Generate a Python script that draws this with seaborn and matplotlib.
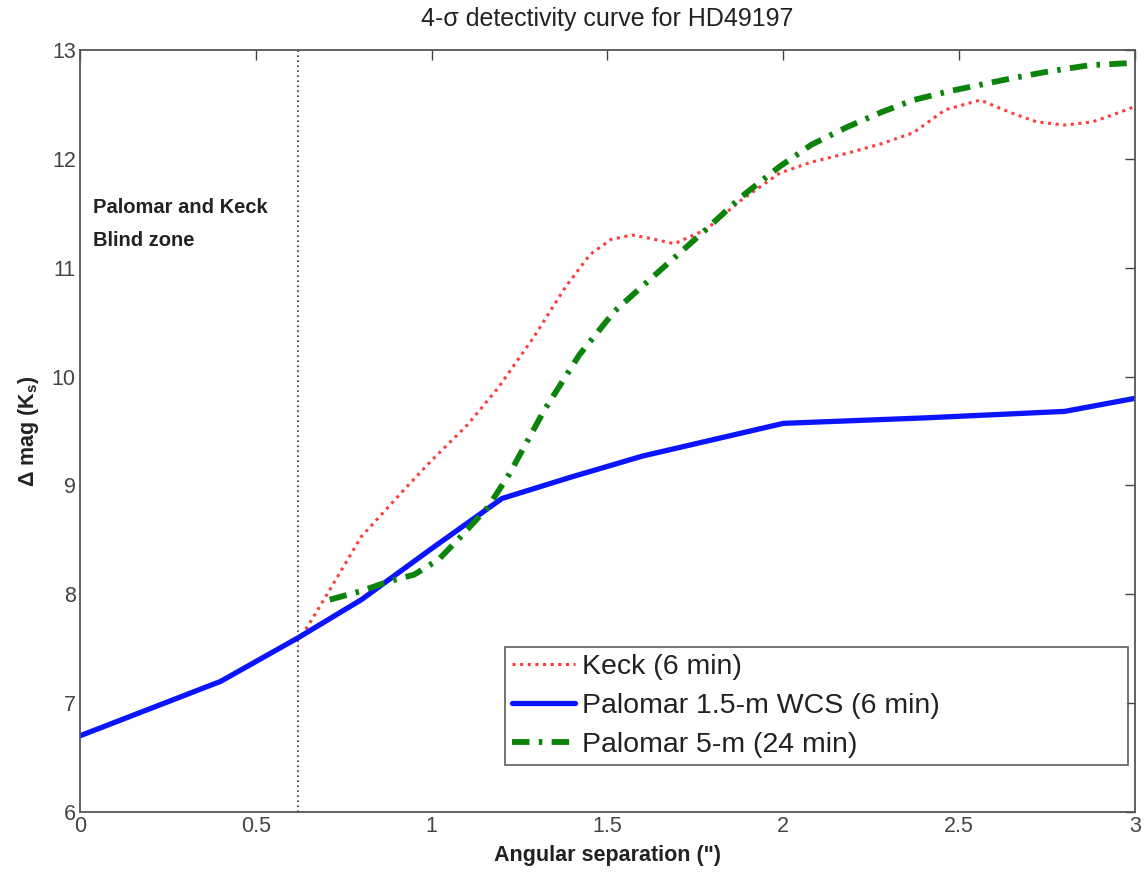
import matplotlib
matplotlib.use("Agg")
import matplotlib.pyplot as plt
import seaborn as sns
import pandas as pd

# Keck (6 min)
keck_sep = [0.63, 0.66, 0.71, 0.80, 0.93, 1.00, 1.10, 1.19, 1.29, 1.38, 1.45, 1.51, 1.57, 1.62, 1.69,
            1.78, 1.88, 1.99, 2.08, 2.18, 2.28, 2.37, 2.46, 2.56, 2.65, 2.72, 2.80, 2.88, 2.95, 3.0]
keck_mag = [7.62, 7.77, 8.04, 8.53, 8.99, 9.23, 9.55, 9.90, 10.36, 10.82, 11.12, 11.26, 11.30, 11.27, 11.22,
            11.35, 11.62, 11.87, 11.97, 12.05, 12.14, 12.24, 12.45, 12.54, 12.42, 12.34, 12.31, 12.34, 12.42, 12.48]

# Palomar 1.5-m WCS (6 min)
wcs_sep = [0.0, 0.4, 0.62, 0.8, 1.0, 1.2, 1.4, 1.6, 1.8, 2.0, 2.4, 2.8, 3.0]
wcs_mag = [6.7, 7.2, 7.6, 7.95, 8.42, 8.88, 9.08, 9.27, 9.42, 9.57, 9.62, 9.68, 9.8]

# Palomar 5-m (24 min)
p5_sep = [0.71, 0.80, 0.88, 0.95, 1.02, 1.08, 1.16, 1.22, 1.32, 1.42, 1.52, 1.62, 1.70, 1.78,
          1.88, 1.99, 2.08, 2.18, 2.28, 2.37, 2.47, 2.56, 2.65, 2.75, 2.87, 2.99]
p5_mag = [7.95, 8.03, 8.12, 8.18, 8.32, 8.52, 8.80, 9.10, 9.69, 10.20, 10.60, 10.89, 11.12, 11.35,
          11.65, 11.93, 12.13, 12.29, 12.43, 12.54, 12.62, 12.68, 12.74, 12.80, 12.86, 12.88]

blind_edge = 0.62

sns.set_theme(style="white")
plt.rcParams['font.family'] = ['Liberation Sans', 'DejaVu Sans']

fig = plt.figure(figsize=(11.46, 8.75), dpi=100)
ax = fig.add_axes([0.0698, 0.072, 0.9206, 0.8709])

keck_df = pd.DataFrame({"sep": keck_sep, "mag": keck_mag})
wcs_df = pd.DataFrame({"sep": wcs_sep, "mag": wcs_mag})
p5_df = pd.DataFrame({"sep": p5_sep, "mag": p5_mag})

sns.lineplot(data=keck_df, x="sep", y="mag", ax=ax, color="#ff3b3b", lw=2.2,
             linestyle=(0, (1, 1.5)), label="Keck (6 min)", sort=False)
sns.lineplot(data=wcs_df, x="sep", y="mag", ax=ax, color="#0a14ff", lw=3.8,
             linestyle="-", label="Palomar 1.5-m WCS (6 min)", sort=False)
sns.lineplot(data=p5_df, x="sep", y="mag", ax=ax, color="#0c840c", lw=4.2,
             linestyle=(0, (3.0, 1.6, 0.6, 1.6)), label="Palomar 5-m (24 min)", sort=False)

ax.axvline(blind_edge, color="#333333", lw=1.2, linestyle=(0, (1, 2)))
ax.text(0.037, 11.64, "Palomar and Keck\nBlind zone", fontsize=14.5, fontweight="bold",
        va="top", ha="left", linespacing=1.95, color="#222222")

ax.set_xlim(0, 3)
ax.set_ylim(6, 13)
ax.set_xticks([0, 0.5, 1, 1.5, 2, 2.5, 3])
ax.set_xticklabels(["0", "0.5", "1", "1.5", "2", "2.5", "3"])
ax.set_yticks(range(6, 14))
ax.tick_params(axis="both", labelsize=15.5, direction="in", length=7, width=1,
               top=True, right=True, color="#444444", labelcolor="#444444", pad=3)
for s in ax.spines.values():
    s.set_color("#555555")
    s.set_linewidth(1.3)

ax.set_xlabel("Angular separation (\")", fontsize=15.5, fontweight="bold", labelpad=6,
              color="#222222")
ax.set_ylabel("Δ mag (K$_\\mathregular{s}$)", fontsize=15.5, fontweight="bold", labelpad=8,
              color="#222222")
ax.set_title("4-σ detectivity curve for HD49197", fontsize=18, pad=17, color="#222222")

leg = ax.legend(loc="lower left", bbox_to_anchor=(0.403, 0.062, 0.590, 0.164), mode="expand",
                fontsize=20.5, frameon=True, fancybox=False, edgecolor="#444444",
                handlelength=2.2, handletextpad=0.25, borderpad=0.25, labelspacing=0.45,
                borderaxespad=0)
leg.get_frame().set_linewidth(1.3)
for t in leg.get_texts():
    t.set_color("#222222")

fig.savefig("out.png", dpi=100)
